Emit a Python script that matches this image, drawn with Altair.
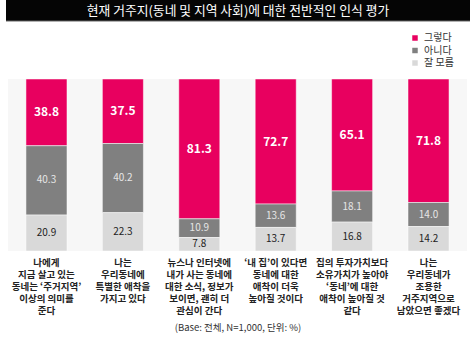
import altair as alt
import pandas as pd

categories = [
    "나에게\n지금 살고 있는\n동네는 ‘주거지역’\n이상의 의미를\n준다",
    "나는\n우리동네에\n특별한 애착을\n가지고 있다",
    "뉴스나 인터넷에\n내가 사는 동네에\n대한 소식, 정보가\n보이면, 괜히 더\n관심이 간다",
    "‘내 집’이 있다면\n동네에 대한\n애착이 더욱\n높아질 것이다",
    "집의 투자가치보다\n소유가치가 높아야\n‘동네’에 대한\n애착이 높아질 것\n같다",
    "나는\n우리동네가\n조용한\n거주지역으로\n남았으면 좋겠다",
]
series = ["그렇다", "아니다", "잘 모름"]
yes_vals = [38.8, 37.5, 81.3, 72.7, 65.1, 71.8]
no_vals = [40.3, 40.2, 10.9, 13.6, 18.1, 14.0]
dk_vals = [20.9, 22.3, 7.8, 13.7, 16.8, 14.2]
colors = ["#E8005F", "#808080", "#D9D9D9"]
title_text = "현재 거주지(동네 및 지역 사회)에 대한 전반적인 인식 평가"
note_text = "(Base: 전체, N=1,000, 단위: %)"

rows = []
for s, vals, o in [("그렇다", yes_vals, 2), ("아니다", no_vals, 1), ("잘 모름", dk_vals, 0)]:
    for c, v in zip(categories, vals):
        rows.append({"cat": c, "series": s, "value": v, "ord": o})
df = pd.DataFrame(rows)

FONT = "Noto Sans CJK KR"

base = alt.Chart(df).transform_stack(
    stack="value", as_=["v0", "v1"], groupby=["cat"], sort=[alt.SortField("ord", order="ascending")]
).transform_calculate(mid="(datum.v0 + datum.v1) / 2")

xenc = alt.X(
    "cat:N",
    sort=categories,
    scale=alt.Scale(paddingInner=0.463, paddingOuter=0.235),
    axis=alt.Axis(
        title=None, labelAngle=0, domain=False, ticks=False,
        labelExpr="split(datum.value, '\\n')",
        labelFont=FONT, labelFontSize=9.5, labelFontWeight="bold", labelColor="#222",
        labelLineHeight=12, labelPadding=6, labelBaseline="top", labelLimit=200,
    ),
)
yscale = alt.Scale(domain=[0, 100], nice=False)

bars = base.mark_bar(stroke="white", strokeWidth=0.5).encode(
    x=xenc,
    y=alt.Y("v0:Q", scale=yscale, axis=None),
    y2="v1:Q",
    color=alt.Color(
        "series:N",
        scale=alt.Scale(domain=series, range=colors),
        legend=alt.Legend(
            title=None, orient="none", legendX=402, legendY=-46,
            symbolType="square", symbolSize=30, symbolStrokeWidth=0,
            labelFont=FONT, labelFontSize=10, labelColor="#333",
            rowPadding=2.5, labelOffset=4,
        ),
    ),
)

def txt(s, color, size, weight):
    return base.transform_filter(alt.datum.series == s).mark_text(
        font=FONT, fontSize=size, fontWeight=weight, color=color, baseline="middle"
    ).encode(
        x=alt.X("cat:N", sort=categories),
        y=alt.Y("mid:Q", scale=yscale),
        text=alt.Text("value:Q", format=".1f"),
    )

t_yes = txt("그렇다", "white", 12, "bold")
t_no = txt("아니다", "#E6E6E6", 10, "normal")
t_dk = txt("잘 모름", "#222", 10, "normal")

title_bg = alt.Chart(pd.DataFrame({"a": [0]})).mark_rect(color="#050505").encode(
    x=alt.value(-2), x2=alt.value(462), y=alt.value(-79), y2=alt.value(-58)
)
title_line = alt.Chart(pd.DataFrame({"a": [0]})).mark_rule(color="#666", strokeWidth=1).encode(
    x=alt.value(-2), x2=alt.value(462), y=alt.value(-58)
)
title_txt = alt.Chart(pd.DataFrame({"a": [0]})).mark_text(
    font=FONT, fontSize=12.8, color="white", baseline="middle"
).encode(x=alt.value(230), y=alt.value(-68.5), text=alt.value(title_text))

note = alt.Chart(pd.DataFrame({"a": [0]})).mark_text(
    font=FONT, fontSize=9.5, color="#333", baseline="middle"
).encode(x=alt.value(230), y=alt.value(249), text=alt.value(note_text))

chart = alt.layer(bars, t_yes, t_no, t_dk, title_bg, title_line, title_txt, note).properties(
    width=459, height=172,
    autosize=alt.AutoSizeParams(type="none"),
    padding={"left": 8, "top": 79, "right": 9, "bottom": 91},
    background="white",
).configure_view(fill="#F7F7F7", stroke=None)

chart.save("out.html", embed_options={"renderer": "svg", "actions": False})
